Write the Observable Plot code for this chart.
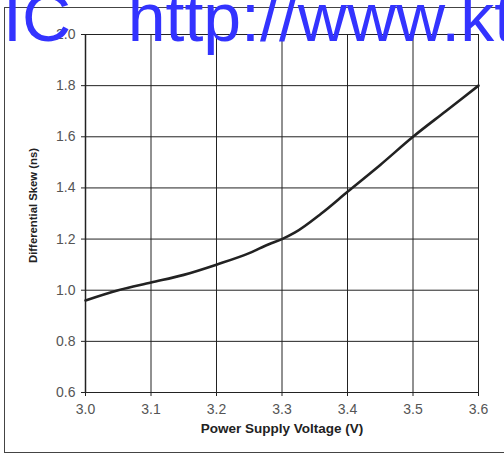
<!DOCTYPE html>
<html>
<head>
<meta charset="utf-8">
<script src="https://cdn.jsdelivr.net/npm/d3@7"></script>
<script src="https://cdn.jsdelivr.net/npm/@observablehq/plot@0.6"></script>
<style>
  html, body { margin: 0; padding: 0; background: #fff; overflow: hidden; }
  #wrap { position: relative; width: 504px; height: 454px; overflow: hidden; }
  #frame { position: absolute; left: 4px; top: 7px; width: 520px; height: 446px; border: 1.5px solid #444; box-sizing: border-box; }
  #chart { position: absolute; left: 0; top: 0; }
  #title { position: absolute; left: 3px; top: -23px; font-family: "Liberation Sans", Arial, sans-serif; font-size: 68px; line-height: 80px; color: #3333ff; white-space: pre; }
</style>
</head>
<body>
<div id="wrap">
  <div id="frame"></div>
  <div id="chart"></div>
  <div id="title">IC   http://www.kt</div>
</div>
<script>
const voltage = [3.0, 3.05, 3.1, 3.15, 3.2, 3.25, 3.28, 3.3, 3.32, 3.36, 3.4, 3.45, 3.5, 3.55, 3.6];
const skew    = [0.96, 1.00, 1.03, 1.06, 1.10, 1.145, 1.18, 1.20, 1.226, 1.30, 1.385, 1.49, 1.60, 1.70, 1.80];
const xTicks = [3.0, 3.1, 3.2, 3.3, 3.4, 3.5, 3.6];
const yTicks = [0.6, 0.8, 1.0, 1.2, 1.4, 1.6, 1.8, 2.0];
const xLabel = "Power Supply Voltage (V)";
const yLabel = "Differential Skew (ns)";

const data = voltage.map((v, i) => ({v, s: skew[i]}));

const chart = Plot.plot({
  width: 504,
  height: 454,
  marginLeft: 85,
  marginRight: 26,
  marginTop: 34,
  marginBottom: 62,
  style: {fontFamily: "'Liberation Sans', Arial, sans-serif", fontSize: "14px", color: "#444", background: "transparent"},
  x: {domain: [3.0, 3.6], ticks: xTicks, tickFormat: d3.format(".1f")},
  y: {domain: [0.6, 2.0], ticks: yTicks, tickFormat: d3.format(".1f")},
  marks: [
    Plot.gridX(xTicks, {stroke: "#222", strokeOpacity: 1, strokeWidth: 1}),
    Plot.gridY(yTicks, {stroke: "#222", strokeOpacity: 1, strokeWidth: 1}),
    Plot.axisX(xTicks, {tickSize: 4, tickPadding: 8, stroke: "#222", fill: "#555", fontSize: 14, label: null}),
    Plot.axisY(yTicks, {tickSize: 4, tickPadding: 6, stroke: "#222", fill: "#555", fontSize: 14, label: null}),
    Plot.ruleX([3.0], {stroke: "#222", strokeWidth: 1.5}),
    Plot.line(data, {x: "v", y: "s", stroke: "#222", strokeWidth: 2.6, curve: "monotone-x", strokeLinejoin: "round"}),
    Plot.text([xLabel], {frameAnchor: "bottom", dy: 40, text: d => d, fontWeight: "bold", fontSize: 13.5, fill: "#222"}),
    Plot.text([yLabel], {frameAnchor: "left", textAnchor: "middle", dx: -52, dy: -8, rotate: -90, text: d => d, fontWeight: "bold", fontSize: 11.3, fill: "#222"})
  ]
});
document.getElementById("chart").appendChild(chart);
</script>
</body>
</html>
